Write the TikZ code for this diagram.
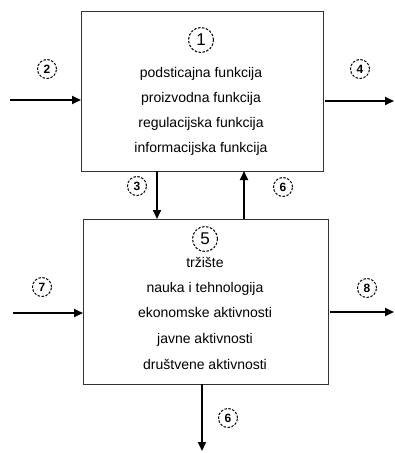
\documentclass[tikz,border=0pt]{standalone}
\usepackage{fontspec}
\setmainfont{Liberation Sans}
\usetikzlibrary{arrows.meta}
\begin{document}
\begin{tikzpicture}[x=1pt,y=-1pt,
  boxstyle/.style={draw=black!80,line width=1pt},
  flow/.style={line width=1.8pt,-{Triangle[length=9pt,width=8pt]}},
  numlabel/.style={circle,draw,dashed,dash pattern=on 2.5pt off 1.5pt,line width=1pt,inner sep=0pt,minimum size=19pt,font=\bfseries\fontsize{12}{12}\selectfont},
  bignum/.style={numlabel,minimum size=25pt,font=\fontsize{17}{17}\selectfont},
  txt/.style={font=\fontsize{14}{14}\selectfont,inner sep=0pt,text height=10pt,text depth=3pt}]
\useasboundingbox (0,0) rectangle (395,453);
% boxes
\draw[boxstyle] (81,11) rectangle (323,171);
\draw[boxstyle] (83,219) rectangle (328,384);
\node[bignum] (n1) at (201,40) {1};
\node[txt] (t11) at (201,74) {podsticajna funkcija};
\node[txt] (t12) at (201,99) {proizvodna funkcija};
\node[txt] (t13) at (201,124) {regulacijska funkcija};
\node[txt] (t14) at (201,149) {informacijska funkcija};
\node[bignum] (n5) at (205,239) {5};
\node[txt] (t51) at (205,264) {tržište};
\node[txt] (t52) at (205,289) {nauka i tehnologija};
\node[txt] (t53) at (205,314) {ekonomske aktivnosti};
\node[txt] (t54) at (205,340) {javne aktivnosti};
\node[txt] (t55) at (205,366) {društvene aktivnosti};
% connector coordinates
\coordinate (inA) at (10,100);
\coordinate (inAe) at (81,100);
\coordinate (outA) at (325,101);
\coordinate (outAe) at (394,101);
\coordinate (dS) at (157,171);
\coordinate (dE) at (157,219);
\coordinate (uS) at (244,219);
\coordinate (uE) at (244,171);
\coordinate (inB) at (13,313);
\coordinate (inBe) at (83,313);
\coordinate (outB) at (330,312);
\coordinate (outBe) at (394,312);
\coordinate (bS) at (202,384);
\coordinate (bE) at (202,451);
\draw[flow] (inA) -- (inAe);
\draw[flow] (outA) -- (outAe);
\draw[flow] (dS) -- (dE);
\draw[flow] (uS) -- (uE);
\draw[flow] (inB) -- (inBe);
\draw[flow] (outB) -- (outBe);
\draw[flow] (bS) -- (bE);
% labels
\node[numlabel] (l2) at (47,69) {2};
\node[numlabel] (l4) at (360,69) {4};
\node[numlabel] (l3) at (137,186) {3};
\node[numlabel] (l6) at (283,187) {6};
\node[numlabel] (l7) at (42,287) {7};
\node[numlabel] (l8) at (367,288) {8};
\node[numlabel] (l9) at (228,418) {6};
\end{tikzpicture}
\end{document}
